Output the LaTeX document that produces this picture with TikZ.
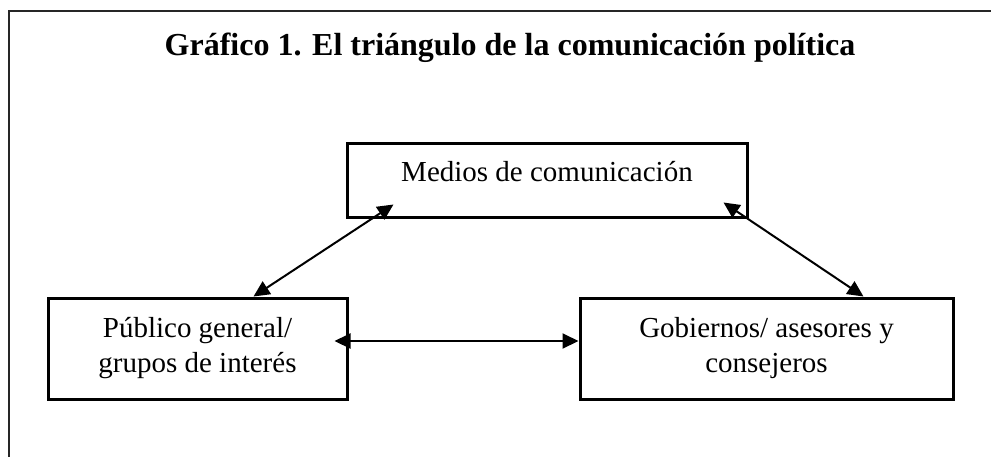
\documentclass[tikz,border=0pt]{standalone}
\usepackage{fontspec}
\setmainfont{Liberation Serif}
\usetikzlibrary{arrows.meta,calc}
\begin{document}
\begin{tikzpicture}[x=1pt,y=-1pt,
  box/.style={draw=black,line width=3pt,rectangle,inner sep=0pt,align=center,font=\fontsize{29}{35}\selectfont},
  link/.style={line width=2pt,{Triangle[length=16pt,width=15pt]}-{Triangle[length=16pt,width=15pt]}},
  frame/.style={line width=2pt,draw=black!85}]
\useasboundingbox (0,0) rectangle (991,456);
\draw[frame] (9,458) -- (9,11) -- (993,11);
\node[font=\bfseries\fontsize{32}{36}\selectfont] (title) at (510,48) {Gráfico 1. El triángulo de la comunicación política};
\node[box,minimum width=400pt,minimum height=74pt,text height=20pt,text depth=18pt] (med) at (547,180) {Medios de comunicación};
\node[box,minimum width=299pt,minimum height=101pt] (pub) at (197.5,348.5) {Público general/\\grupos de interés};
\node[box,minimum width=373pt,minimum height=101pt] (gob) at (766.5,348.5) {Gobiernos/ asesores y\\consejeros};
\coordinate (a1) at ($(pub.north west)+(207,0)$);
\coordinate (a2) at ($(med.south west)+(48,-14)$);
\coordinate (b1) at ($(med.south east)+(-25,-16)$);
\coordinate (b2) at ($(gob.north west)+(285,0)$);
\coordinate (c1) at ($(pub.east)+(-14,-7.5)$);
\coordinate (c2) at ($(gob.west)+(0,-7.5)$);
\draw[link] (a1) -- (a2);
\draw[link] (b1) -- (b2);
\draw[link] (c1) -- (c2);
\end{tikzpicture}
\end{document}
